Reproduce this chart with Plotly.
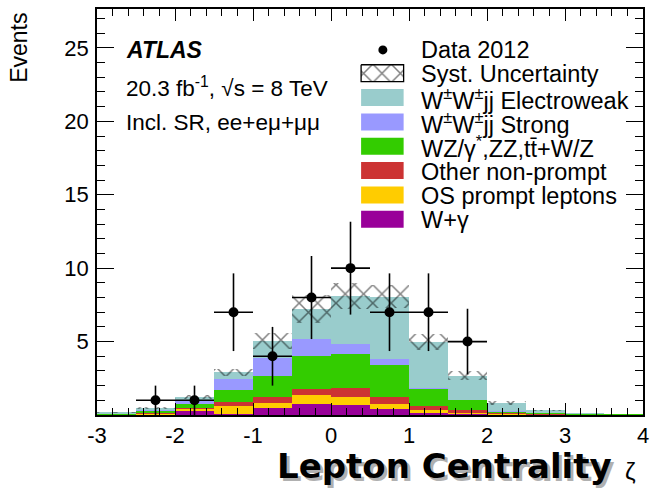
import numpy as np
import plotly.graph_objects as go

# ---------------- data ----------------
bin_centers = [-2.75, -2.25, -1.75, -1.25, -0.75, -0.25, 0.25, 0.75,
               1.25, 1.75, 2.25, 2.75, 3.25, 3.75]
bin_width = 0.5

w_gamma     = [0.02, 0.05, 0.33, 0.08, 0.49, 0.76, 0.65, 0.38, 0.12, 0.12, 0.05, 0.02, 0.00, 0.00]
os_prompt   = [0.01, 0.03, 0.09, 0.50, 0.31, 0.63, 0.56, 0.40, 0.19, 0.05, 0.03, 0.01, 0.00, 0.00]
other_np    = [0.02, 0.04, 0.08, 0.29, 0.46, 0.39, 0.61, 0.43, 0.27, 0.18, 0.07, 0.05, 0.01, 0.00]
wz_zz_ttv   = [0.07, 0.18, 0.28, 0.80, 1.43, 2.27, 2.34, 2.18, 1.20, 0.69, 0.10, 0.07, 0.06, 0.01]
wwjj_strong = [0.01, 0.10, 0.21, 0.79, 1.18, 1.13, 0.68, 0.41, 0.07, 0.01, 0.01, 0.01, 0.00, 0.00]
wwjj_ew     = [0.02, 0.06, 0.25, 0.44, 1.15, 2.02, 3.26, 4.26, 3.13, 1.64, 0.54, 0.15, 0.01, 0.00]
syst_unc    = [0.03, 0.08, 0.15, 0.24, 0.54, 0.95, 0.87, 0.80, 0.55, 0.30, 0.13, 0.05, 0.02, 0.00]

data_x = [-2.25, -1.75, -1.25, -0.75, -0.25, 0.25, 0.75, 1.25, 1.75]
data_y = [1, 1, 7, 4, 8, 10, 7, 7, 5]

x_ticks = [-3, -2, -1, 0, 1, 2, 3, 4]
y_ticks = [5, 10, 15, 20, 25]

components = [
    ("W+γ", w_gamma, "#990099"),
    ("OS prompt leptons", os_prompt, "#ffcc00"),
    ("Other non-prompt", other_np, "#cc3333"),
    ("WZ/γ<sup>*</sup>,ZZ,tt̄+W/Z", wz_zz_ttv, "#33cc00"),
    ("W<sup>±</sup>W<sup>±</sup>jj Strong", wwjj_strong, "#9999ff"),
    ("W<sup>±</sup>W<sup>±</sup>jj Electroweak", wwjj_ew, "#99cccc"),
]

FONT = "Liberation Sans, Arial, Helvetica, sans-serif"
HATCH = dict(shape="x", size=13, solidity=0.22, fgcolor="black")

fig = go.Figure()

base = np.zeros(len(bin_centers))
for name, vals, col in components:
    v = np.array(vals)
    fig.add_trace(go.Bar(x=bin_centers, y=v, base=base.copy(), width=bin_width,
                         marker=dict(color=col, line=dict(width=0)),
                         showlegend=False, hoverinfo="skip"))
    base = base + v

total = base
unc = np.array(syst_unc)
fig.add_trace(go.Bar(x=bin_centers, y=2 * unc, base=total - unc, width=bin_width,
                     marker=dict(color="rgba(0,0,0,0)", line=dict(width=0),
                                 pattern=HATCH),
                     showlegend=False, hoverinfo="skip"))

dy = np.sqrt(np.array(data_y, dtype=float))
fig.add_trace(go.Scatter(x=data_x, y=data_y, mode="markers",
                         marker=dict(color="black", size=10),
                         error_y=dict(type="data", array=dy, arrayminus=dy,
                                      color="black", thickness=1.6, width=0),
                         error_x=dict(type="constant", value=bin_width / 2,
                                      color="black", thickness=1.6, width=0),
                         showlegend=False, hoverinfo="skip"))

# ---------------- legend (drawn in pixel-like overlay axes) ----------------
PX_L, PX_R, PX_T, PX_B = 97, 649, 8, 415
legend_items = [
    ("Data 2012", None),
    ("Syst. Uncertainty", "hatch"),
    ("W<sup>±</sup>W<sup>±</sup>jj Electroweak", "#99cccc"),
    ("W<sup>±</sup>W<sup>±</sup>jj Strong", "#9999ff"),
    ("WZ/γ<sup>*</sup>,ZZ,tt̄+W/Z", "#33cc00"),
    ("Other non-prompt", "#cc3333"),
    ("OS prompt leptons", "#ffcc00"),
    ("W+γ", "#990099"),
]
row0, drow = 49.0, 24.4
box_x0, box_x1, box_h = 364, 407, 17
annotations = []
shapes = []
for i, (label, sty) in enumerate(legend_items):
    yc = row0 + drow * i
    annotations.append(dict(x=423, y=yc, xref="x2", yref="y2", text=label,
                            showarrow=False, xanchor="left", yanchor="middle",
                            font=dict(family=FONT, size=23.5, color="black")))
    yb = yc - 1
    if sty is None:
        fig.add_trace(go.Scatter(x=[386], y=[yc], xaxis="x2", yaxis="y2",
                                 mode="markers", marker=dict(color="black", size=9),
                                 showlegend=False, hoverinfo="skip"))
    elif sty == "hatch":
        fig.add_trace(go.Scatter(
            x=[box_x0, box_x1, box_x1, box_x0, box_x0],
            y=[yb - box_h / 2, yb - box_h / 2, yb + box_h / 2, yb + box_h / 2, yb - box_h / 2],
            xaxis="x2", yaxis="y2", mode="lines", fill="toself",
            fillcolor="white", line=dict(color="black", width=1.3),
            fillpattern=dict(HATCH, bgcolor="white"),
            showlegend=False, hoverinfo="skip"))
    else:
        shapes.append(dict(type="rect", xref="x2", yref="y2", x0=box_x0, x1=box_x1,
                           y0=yb - box_h / 2, y1=yb + box_h / 2,
                           fillcolor=sty, line=dict(width=0)))

# ATLAS labels
annotations += [
    dict(x=124, y=49, xref="x2", yref="y2", text="<b><i>ATLAS</i></b>", showarrow=False,
         xanchor="left", yanchor="middle", font=dict(family=FONT, size=23, color="black")),
    dict(x=124, y=86, xref="x2", yref="y2", text="20.3 fb<sup>-1</sup>, √s = 8 TeV",
         showarrow=False, xanchor="left", yanchor="middle",
         font=dict(family=FONT, size=22.5, color="black")),
    dict(x=124, y=122, xref="x2", yref="y2", text="Incl. SR, ee+eμ+μμ",
         showarrow=False, xanchor="left", yanchor="middle",
         font=dict(family=FONT, size=22.5, color="black")),
]

# axis titles
annotations += [
    dict(x=-79 / 552, y=1.0 - 2 / 407, xref="paper", yref="paper", text="Events",
         textangle=-90, showarrow=False, xanchor="center", yanchor="top",
         font=dict(family=FONT, size=23, color="black")),
    dict(x=(451 - PX_L) / 552, y=(PX_B - 469) / 407, xref="paper", yref="paper",
         text="<b>Lepton Centrality</b>", showarrow=False, xanchor="center", yanchor="middle",
         font=dict(family="DejaVu Sans", size=34, color="#b0b0b0")),
    dict(x=(448.5 - PX_L) / 552, y=(PX_B - 466) / 407, xref="paper", yref="paper",
         text="<b>Lepton Centrality</b>", showarrow=False, xanchor="center", yanchor="middle",
         font=dict(family="DejaVu Sans", size=34, color="black")),
    dict(x=(636 - PX_L) / 552, y=(PX_B - 472) / 407, xref="paper", yref="paper",
         text="ζ", showarrow=False, xanchor="center", yanchor="middle",
         font=dict(family=FONT, size=24, color="black")),
]

fig.update_layout(
    width=656, height=496,
    margin=dict(l=PX_L, r=656 - PX_R, t=PX_T, b=496 - PX_B),
    paper_bgcolor="white", plot_bgcolor="white",
    barmode="overlay", bargap=0,
    showlegend=False,
    annotations=annotations, shapes=shapes,
    xaxis=dict(range=[-3, 4], tickvals=x_ticks, ticktext=[str(t) for t in x_ticks],
               ticks="inside", ticklen=12, tickwidth=1.3, tickcolor="black",
               minor=dict(ticks="inside", ticklen=7, dtick=0.2, tickcolor="black", tickwidth=1.2),
               showline=True, linecolor="black", linewidth=1.5, mirror="ticks",
               showgrid=False, zeroline=False,
               tickfont=dict(family=FONT, size=22, color="black")),
    yaxis=dict(range=[0, 27.65], tickvals=y_ticks, ticktext=[str(t) for t in y_ticks],
               ticks="inside", ticklen=17, tickwidth=1.3, tickcolor="black",
               minor=dict(ticks="inside", ticklen=8, dtick=1, tickcolor="black", tickwidth=1.2),
               showline=True, linecolor="black", linewidth=1.5, mirror="ticks",
               showgrid=False, zeroline=False, ticklabelstandoff=2,
               tickfont=dict(family=FONT, size=22, color="black")),
    xaxis2=dict(range=[PX_L, PX_R], overlaying="x", visible=False, fixedrange=True),
    yaxis2=dict(range=[PX_B, PX_T], overlaying="y", visible=False, fixedrange=True),
)

fig.write_html("out.html")
